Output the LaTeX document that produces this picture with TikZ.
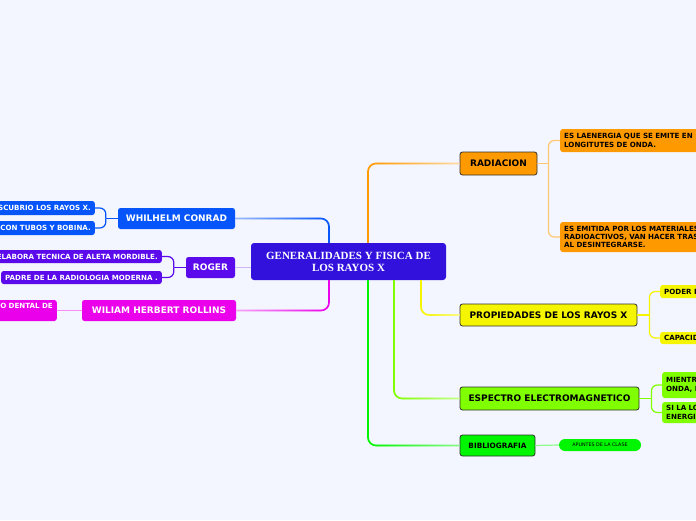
\documentclass[tikz,border=0pt]{standalone}
\usepackage{fontspec}
\setmainfont{Liberation Serif}
\setsansfont{DejaVu Sans}
\usetikzlibrary{positioning,fadings}
\definecolor{BgColor}{RGB}{243,246,254}
\definecolor{CoreColor}{RGB}{51,17,221}
\definecolor{OrangeTopic}{RGB}{255,153,0}
\definecolor{YellowTopic}{RGB}{245,245,0}
\definecolor{LimeTopic}{RGB}{128,255,0}
\definecolor{GreenTopic}{RGB}{0,245,0}
\definecolor{BlueTopic}{RGB}{5,85,250}
\definecolor{VioletTopic}{RGB}{90,10,235}
\definecolor{MagentaTopic}{RGB}{235,0,235}
\definecolor{DarkBorder}{RGB}{50,50,50}

\begin{document}
\begin{tikzpicture}[x=1pt, y=-1pt,
    core/.style={fill=CoreColor, text=white, rounded corners=3, inner sep=0, align=center,
      font=\fontsize{11}{12}\rmfamily\bfseries},
    topic/.style={draw=DarkBorder, line width=0.8, rounded corners=2.5, inner sep=0,
      minimum height=22, font=\fontsize{9}{10}\sffamily\bfseries},
    branch/.style={rounded corners=2.5, inner sep=0, text=white, minimum height=21,
      font=\fontsize{9}{10}\sffamily\bfseries},
    leaf/.style={rounded corners=2.5, inner xsep=4, inner ysep=0, align=left,
      font=\fontsize{7.1}{8.4}\sffamily\bfseries},
    link/.style={line width=1.6, rounded corners=8},
    sublink/.style={line width=1.2, rounded corners=6}]
  \useasboundingbox (0,0) rectangle (696,520);
  \fill[BgColor] (0,0) rectangle (696,520);

  % central topic
  \node[core, minimum width=195, minimum height=37] (core) at (348.5,261.5) {GENERALIDADES Y FISICA DE\\LOS RAYOS X};

  % right side topics
  \node[topic, fill=OrangeTopic, minimum width=77, minimum height=23] (radiacion) at (498.5,163.5) {RADIACION};
  \node[topic, fill=YellowTopic, minimum width=177] (propiedades) at (548.5,315) {PROPIEDADES DE LOS RAYOS X};
  \node[topic, fill=LimeTopic, minimum width=179, minimum height=23] (espectro) at (549.5,398.5) {ESPECTRO ELECTROMAGNETICO};
  \node[topic, fill=GreenTopic, minimum width=75, minimum height=21, font=\fontsize{7.3}{8}\sffamily\bfseries] (biblio) at (497.5,445.5) {BIBLIOGRAFIA};

  % left side topics
  \node[branch, fill=BlueTopic, minimum width=117] (conrad) at (176.5,218.5) {WHILHELM CONRAD};
  \node[branch, fill=VioletTopic, minimum width=49] (roger) at (210.5,267.5) {ROGER};
  \node[branch, fill=MagentaTopic, minimum width=154] (rollins) at (159,310.5) {WILIAM HERBERT ROLLINS};

  % leaves
  \node[leaf, fill=OrangeTopic, anchor=west, minimum height=23, text width=180] (rad1) at (560,140.5) {ES LAENERGIA QUE SE EMITE EN\\LONGITUTES DE ONDA.};
  \node[leaf, fill=OrangeTopic, anchor=west, minimum height=30, text width=180] (rad2) at (560,237) {ES EMITIDA POR LOS MATERIALES\\RADIOACTIVOS, VAN HACER TRAS\\AL DESINTEGRARSE.};
  \node[leaf, fill=YellowTopic, anchor=west, minimum height=13, text width=60] (prop1) at (660,291.5) {PODER P};
  \node[leaf, fill=YellowTopic, anchor=west, minimum height=12, text width=60] (prop2) at (660,338) {CAPACID};
  \node[leaf, fill=LimeTopic, anchor=west, minimum height=26, text width=60] (esp1) at (662,385) {MIENTRAS\\ONDA, M};
  \node[leaf, fill=LimeTopic, anchor=west, minimum height=21, text width=60] (esp2) at (662,412.5) {SI LA LO\\ENERGIA};
  \node[rounded corners=6, fill=GreenTopic, inner sep=0, minimum width=82, minimum height=12,
    font=\fontsize{4.8}{5}\sffamily] (apuntes) at (600,445) {APUNTES DE LA CLASE};

  \node[leaf, fill=BlueTopic, text=white, anchor=east, minimum height=14, text width=120, align=right] (conrad1) at (95,208) {DESCUBRIO LOS RAYOS X.};
  \node[leaf, fill=BlueTopic, text=white, anchor=east, minimum height=14, text width=120, align=right] (conrad2) at (95,228) {CON TUBOS Y BOBINA.};
  \node[leaf, fill=VioletTopic, text=white, anchor=east, minimum height=13, text width=175, align=right] (roger1) at (162,256.5) {ELABORA TECNICA DE ALETA MORDIBLE.};
  \node[leaf, fill=VioletTopic, text=white, anchor=east, minimum height=13] (roger2) at (162,277.5) {PADRE DE LA RADIOLOGIA MODERNA .};
  \node[leaf, fill=MagentaTopic, text=white, anchor=east, minimum height=21, text width=80, align=right] (rollins1) at (57,310.5) {O DENTAL DE\\\mbox{}};

  % links from the central topic
  \draw[link, OrangeTopic!35] ([xshift=19.5pt]core.north) |- (radiacion.west);
  \draw[link, OrangeTopic, path fading=east] ([xshift=19.5pt]core.north) |- (radiacion.west);
  \draw[link, YellowTopic!45] ([xshift=72.5pt]core.south) |- (propiedades.west);
  \draw[link, YellowTopic, path fading=east] ([xshift=72.5pt]core.south) |- (propiedades.west);
  \draw[link, LimeTopic!45] ([xshift=45.5pt]core.south) |- (espectro.west);
  \draw[link, LimeTopic, path fading=east] ([xshift=45.5pt]core.south) |- (espectro.west);
  \draw[link, GreenTopic!45] ([xshift=19.5pt]core.south) |- (biblio.west);
  \draw[link, GreenTopic, path fading=east] ([xshift=19.5pt]core.south) |- (biblio.west);
  \draw[link, BlueTopic!40] ([xshift=-19.5pt]core.north) |- (conrad.east);
  \draw[link, BlueTopic, path fading=west] ([xshift=-19.5pt]core.north) |- (conrad.east);
  \draw[link, MagentaTopic!35] ([xshift=-19.5pt]core.south) |- (rollins.east);
  \draw[link, MagentaTopic, path fading=west] ([xshift=-19.5pt]core.south) |- (rollins.east);
  \draw[link, VioletTopic!30] (core.west |- roger.east) -- (roger.east);

  % links to the leaves
  \draw[sublink, OrangeTopic!55] (radiacion.east) -- ++(11,0) coordinate (radj);
  \draw[sublink, OrangeTopic!55] (radj) |- (rad1.west);
  \draw[sublink, OrangeTopic!55] (radj) |- (rad2.west);
  \draw[sublink, YellowTopic] (propiedades.east) -- ++(12,0) coordinate (propj);
  \draw[sublink, YellowTopic] (propj) |- (prop1.west);
  \draw[sublink, YellowTopic] (propj) |- (prop2.west);
  \draw[sublink, LimeTopic] (espectro.east) -- ++(12,0) coordinate (espj);
  \draw[sublink, LimeTopic] (espj) |- (esp1.west);
  \draw[sublink, LimeTopic] (espj) |- (esp2.west);
  \draw[sublink, GreenTopic!45] (biblio.east) -- (apuntes.west);
  \draw[sublink, BlueTopic] (conrad.west) -- ++(-12,0) coordinate (conj);
  \draw[sublink, BlueTopic] (conj) |- (conrad1.east);
  \draw[sublink, BlueTopic] (conj) |- (conrad2.east);
  \draw[sublink, VioletTopic] (roger.west) -- ++(-12,0) coordinate (rogj);
  \draw[sublink, VioletTopic] (rogj) |- (roger1.east);
  \draw[sublink, VioletTopic] (rogj) |- (roger2.east);
  \draw[sublink, MagentaTopic!45] (rollins.west) -- (rollins1.east);
\end{tikzpicture}
\end{document}
